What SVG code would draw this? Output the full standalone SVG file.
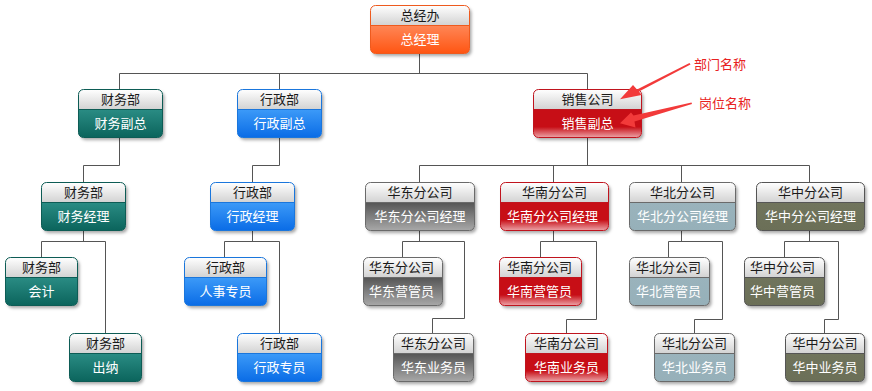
<svg xmlns="http://www.w3.org/2000/svg" width="872" height="391" viewBox="0 0 872 391">
<defs>
<linearGradient id="gHead" x1="0" y1="0" x2="0" y2="1"><stop offset="0" stop-color="#ffffff"/><stop offset="1" stop-color="#d2d2d2"/></linearGradient>
<linearGradient id="gOrange" x1="0" y1="0" x2="0" y2="1"><stop offset="0" stop-color="#ff8656"/><stop offset="1" stop-color="#ff5512"/></linearGradient>
<linearGradient id="gTeal" x1="0" y1="0" x2="0" y2="1"><stop offset="0" stop-color="#2a8c84"/><stop offset="1" stop-color="#0b645c"/></linearGradient>
<linearGradient id="gBlue" x1="0" y1="0" x2="0" y2="1"><stop offset="0" stop-color="#3c9af8"/><stop offset="1" stop-color="#0a6ce6"/></linearGradient>
<linearGradient id="gRed" x1="0" y1="0" x2="0" y2="1"><stop offset="0" stop-color="#c70e16"/><stop offset="0.62" stop-color="#c70e16"/><stop offset="1" stop-color="#eca4a8"/></linearGradient>
<linearGradient id="gGray" x1="0" y1="0" x2="0" y2="1"><stop offset="0" stop-color="#555555"/><stop offset="1" stop-color="#a8a8a8"/></linearGradient>
<linearGradient id="gSteel" x1="0" y1="0" x2="0" y2="1"><stop offset="0" stop-color="#9ab3bc"/><stop offset="1" stop-color="#96b0b9"/></linearGradient>
<linearGradient id="gOlive" x1="0" y1="0" x2="0" y2="1"><stop offset="0" stop-color="#70745c"/><stop offset="1" stop-color="#6b6f57"/></linearGradient>
<filter id="shadow" x="-10%" y="-10%" width="130%" height="140%"><feDropShadow dx="2" dy="2.5" stdDeviation="1.6" flood-color="#000" flood-opacity="0.35"/></filter>
</defs>
<style>
.hd{fill:url(#gHead)}
.bg{fill:#fff;filter:url(#shadow)}
.ol{fill:none;stroke-width:1}
.dv{stroke-width:1}
.ht{font-family:"Noto Sans CJK SC","Noto Sans CJK TC",sans-serif;font-size:13px;fill:#1a1a1a;text-anchor:middle}
.bt{font-family:"Noto Sans CJK SC","Noto Sans CJK TC",sans-serif;font-size:13px;fill:#ffffff;text-anchor:middle}
.orange .bd{fill:url(#gOrange)} .orange .ol,.orange .dv{stroke:#ee5a1e}
.teal .bd{fill:url(#gTeal)} .teal .ol,.teal .dv{stroke:#0d5c55}
.blue .bd{fill:url(#gBlue)} .blue .ol,.blue .dv{stroke:#1a76dc}
.red .bd{fill:url(#gRed)} .red .ol,.red .dv{stroke:#c0141e}
.gray .bd{fill:url(#gGray)} .gray .ol,.gray .dv{stroke:#6a6a6a}
.steel .bd{fill:url(#gSteel)} .steel .ol,.steel .dv{stroke:#6a6a6a}
.olive .bd{fill:url(#gOlive)} .olive .ol,.olive .dv{stroke:#555555}
.conn path{fill:none;stroke:#555555;stroke-width:1}
.arrow{fill:#f23a3a}
.note{font-family:"Noto Sans CJK SC","Noto Sans CJK TC",sans-serif;font-size:13px;fill:#e82222}
</style>

<g id="connectors" class="conn">
<path d="M419.5,54 V73.5 M119.5,89 V73.5 H587.5 V89 M279.5,73.5 V89"/>
<path d="M119.5,137 V165.5 H83.5 V182"/>
<path d="M279.5,137 V165.5 H252.5 V182"/>
<path d="M587.5,137 V165.5 M419.5,182 V165.5 H809.5 V182 M553.5,165.5 V182 M681.5,165.5 V182"/>
<path d="M83.5,230 V241.5 M41.5,257 V241.5 H105.5 V333"/>
<path d="M252.5,230 V241.5 M224.5,257 V241.5 H279.5 V333"/>
<path d="M419.5,230 V241.5 M402.5,257 V241.5 H464.5 V318.5 H432.5 V333"/>
<path d="M553.5,230 V241.5 M540.5,257 V241.5 H596.5 V319.5 H566.5 V333"/>
<path d="M681.5,230 V241.5 M668.5,257 V241.5 H722.5 V319.5 H694.5 V333"/>
<path d="M809.5,230 V241.5 M784.5,257 V241.5 H838.5 V319.5 H824.5 V333"/>
</g>

<g id="n1" class="orange" transform="translate(370.5,5.5)">
<rect class="bg" width="99" height="48" rx="5"/>
<path class="hd" d="M0,20 V5 A5,5 0 0 1 5,0 H94 A5,5 0 0 1 99,5 V20 Z"/>
<path class="bd" d="M0,20 H99 V43 A5,5 0 0 1 94,48 H5 A5,5 0 0 1 0,43 Z"/>
<line class="dv" x1="0" y1="20" x2="99" y2="20"/>
<rect class="ol" width="99" height="48" rx="5"/>
<text class="ht" x="49.5" y="14.5">总经办</text>
<text class="bt" x="49.5" y="38.5">总经理</text>
</g>

<g id="n2" class="teal" transform="translate(78.5,89.5)">
<rect class="bg" width="84" height="48" rx="5"/>
<path class="hd" d="M0,20 V5 A5,5 0 0 1 5,0 H79 A5,5 0 0 1 84,5 V20 Z"/>
<path class="bd" d="M0,20 H84 V43 A5,5 0 0 1 79,48 H5 A5,5 0 0 1 0,43 Z"/>
<line class="dv" x1="0" y1="20" x2="84" y2="20"/>
<rect class="ol" width="84" height="48" rx="5"/>
<text class="ht" x="42" y="14.5">财务部</text>
<text class="bt" x="42" y="38.5">财务副总</text>
</g>

<g id="n3" class="blue" transform="translate(237.5,89.5)">
<rect class="bg" width="84" height="48" rx="5"/>
<path class="hd" d="M0,20 V5 A5,5 0 0 1 5,0 H79 A5,5 0 0 1 84,5 V20 Z"/>
<path class="bd" d="M0,20 H84 V43 A5,5 0 0 1 79,48 H5 A5,5 0 0 1 0,43 Z"/>
<line class="dv" x1="0" y1="20" x2="84" y2="20"/>
<rect class="ol" width="84" height="48" rx="5"/>
<text class="ht" x="42" y="14.5">行政部</text>
<text class="bt" x="42" y="38.5">行政副总</text>
</g>

<g id="n4" class="red" transform="translate(533.5,89.5)">
<rect class="bg" width="108" height="48" rx="5"/>
<path class="hd" d="M0,20 V5 A5,5 0 0 1 5,0 H103 A5,5 0 0 1 108,5 V20 Z"/>
<path class="bd" d="M0,20 H108 V43 A5,5 0 0 1 103,48 H5 A5,5 0 0 1 0,43 Z"/>
<line class="dv" x1="0" y1="20" x2="108" y2="20"/>
<rect class="ol" width="108" height="48" rx="5"/>
<text class="ht" x="54" y="14.5">销售公司</text>
<text class="bt" x="54" y="38.5">销售副总</text>
</g>

<g id="n5" class="teal" transform="translate(41.5,182.5)">
<rect class="bg" width="84" height="48" rx="5"/>
<path class="hd" d="M0,20 V5 A5,5 0 0 1 5,0 H79 A5,5 0 0 1 84,5 V20 Z"/>
<path class="bd" d="M0,20 H84 V43 A5,5 0 0 1 79,48 H5 A5,5 0 0 1 0,43 Z"/>
<line class="dv" x1="0" y1="20" x2="84" y2="20"/>
<rect class="ol" width="84" height="48" rx="5"/>
<text class="ht" x="42" y="14.5">财务部</text>
<text class="bt" x="42" y="38.5">财务经理</text>
</g>

<g id="n6" class="blue" transform="translate(210.5,182.5)">
<rect class="bg" width="84" height="48" rx="5"/>
<path class="hd" d="M0,20 V5 A5,5 0 0 1 5,0 H79 A5,5 0 0 1 84,5 V20 Z"/>
<path class="bd" d="M0,20 H84 V43 A5,5 0 0 1 79,48 H5 A5,5 0 0 1 0,43 Z"/>
<line class="dv" x1="0" y1="20" x2="84" y2="20"/>
<rect class="ol" width="84" height="48" rx="5"/>
<text class="ht" x="42" y="14.5">行政部</text>
<text class="bt" x="42" y="38.5">行政经理</text>
</g>

<g id="n7" class="gray" transform="translate(365.5,182.5)">
<rect class="bg" width="109" height="48" rx="5"/>
<path class="hd" d="M0,20 V5 A5,5 0 0 1 5,0 H104 A5,5 0 0 1 109,5 V20 Z"/>
<path class="bd" d="M0,20 H109 V43 A5,5 0 0 1 104,48 H5 A5,5 0 0 1 0,43 Z"/>
<line class="dv" x1="0" y1="20" x2="109" y2="20"/>
<rect class="ol" width="109" height="48" rx="5"/>
<text class="ht" x="54.5" y="14.5">华东分公司</text>
<text class="bt" x="54.5" y="38.5">华东分公司经理</text>
</g>

<g id="n8" class="red" transform="translate(500.5,182.5)">
<rect class="bg" width="108" height="48" rx="5"/>
<path class="hd" d="M0,20 V5 A5,5 0 0 1 5,0 H103 A5,5 0 0 1 108,5 V20 Z"/>
<path class="bd" d="M0,20 H108 V43 A5,5 0 0 1 103,48 H5 A5,5 0 0 1 0,43 Z"/>
<line class="dv" x1="0" y1="20" x2="108" y2="20"/>
<rect class="ol" width="108" height="48" rx="5"/>
<text class="ht" x="54" y="14.5">华南分公司</text>
<text class="bt" x="52" y="38.5">华南分公司经理</text>
</g>

<g id="n9" class="steel" transform="translate(629.5,182.5)">
<rect class="bg" width="106" height="48" rx="5"/>
<path class="hd" d="M0,20 V5 A5,5 0 0 1 5,0 H101 A5,5 0 0 1 106,5 V20 Z"/>
<path class="bd" d="M0,20 H106 V43 A5,5 0 0 1 101,48 H5 A5,5 0 0 1 0,43 Z"/>
<line class="dv" x1="0" y1="20" x2="106" y2="20"/>
<rect class="ol" width="106" height="48" rx="5"/>
<text class="ht" x="53" y="14.5">华北分公司</text>
<text class="bt" x="53" y="38.5">华北分公司经理</text>
</g>

<g id="n10" class="olive" transform="translate(756.5,182.5)">
<rect class="bg" width="108" height="48" rx="5"/>
<path class="hd" d="M0,20 V5 A5,5 0 0 1 5,0 H103 A5,5 0 0 1 108,5 V20 Z"/>
<path class="bd" d="M0,20 H108 V43 A5,5 0 0 1 103,48 H5 A5,5 0 0 1 0,43 Z"/>
<line class="dv" x1="0" y1="20" x2="108" y2="20"/>
<rect class="ol" width="108" height="48" rx="5"/>
<text class="ht" x="54" y="14.5">华中分公司</text>
<text class="bt" x="54" y="38.5">华中分公司经理</text>
</g>

<g id="n11" class="teal" transform="translate(5.5,257.5)">
<rect class="bg" width="72" height="48" rx="5"/>
<path class="hd" d="M0,20 V5 A5,5 0 0 1 5,0 H67 A5,5 0 0 1 72,5 V20 Z"/>
<path class="bd" d="M0,20 H72 V43 A5,5 0 0 1 67,48 H5 A5,5 0 0 1 0,43 Z"/>
<line class="dv" x1="0" y1="20" x2="72" y2="20"/>
<rect class="ol" width="72" height="48" rx="5"/>
<text class="ht" x="36" y="14.5">财务部</text>
<text class="bt" x="36" y="38.5">会计</text>
</g>

<g id="n12" class="blue" transform="translate(184.5,257.5)">
<rect class="bg" width="82" height="48" rx="5"/>
<path class="hd" d="M0,20 V5 A5,5 0 0 1 5,0 H77 A5,5 0 0 1 82,5 V20 Z"/>
<path class="bd" d="M0,20 H82 V43 A5,5 0 0 1 77,48 H5 A5,5 0 0 1 0,43 Z"/>
<line class="dv" x1="0" y1="20" x2="82" y2="20"/>
<rect class="ol" width="82" height="48" rx="5"/>
<text class="ht" x="41" y="14.5">行政部</text>
<text class="bt" x="41" y="38.5">人事专员</text>
</g>

<g id="n13" class="gray" transform="translate(363.5,257.5)">
<rect class="bg" width="79" height="48" rx="5"/>
<path class="hd" d="M0,20 V5 A5,5 0 0 1 5,0 H74 A5,5 0 0 1 79,5 V20 Z"/>
<path class="bd" d="M0,20 H79 V43 A5,5 0 0 1 74,48 H5 A5,5 0 0 1 0,43 Z"/>
<line class="dv" x1="0" y1="20" x2="79" y2="20"/>
<rect class="ol" width="79" height="48" rx="5"/>
<text class="ht" x="38" y="14.5">华东分公司</text>
<text class="bt" x="38" y="38.5">华东营管员</text>
</g>

<g id="n14" class="red" transform="translate(499.5,257.5)">
<rect class="bg" width="82" height="48" rx="5"/>
<path class="hd" d="M0,20 V5 A5,5 0 0 1 5,0 H77 A5,5 0 0 1 82,5 V20 Z"/>
<path class="bd" d="M0,20 H82 V43 A5,5 0 0 1 77,48 H5 A5,5 0 0 1 0,43 Z"/>
<line class="dv" x1="0" y1="20" x2="82" y2="20"/>
<rect class="ol" width="82" height="48" rx="5"/>
<text class="ht" x="40" y="14.5">华南分公司</text>
<text class="bt" x="40" y="38.5">华南营管员</text>
</g>

<g id="n15" class="steel" transform="translate(629.5,257.5)">
<rect class="bg" width="80" height="48" rx="5"/>
<path class="hd" d="M0,20 V5 A5,5 0 0 1 5,0 H75 A5,5 0 0 1 80,5 V20 Z"/>
<path class="bd" d="M0,20 H80 V43 A5,5 0 0 1 75,48 H5 A5,5 0 0 1 0,43 Z"/>
<line class="dv" x1="0" y1="20" x2="80" y2="20"/>
<rect class="ol" width="80" height="48" rx="5"/>
<text class="ht" x="39" y="14.5">华北分公司</text>
<text class="bt" x="39" y="38.5">华北营管员</text>
</g>

<g id="n16" class="olive" transform="translate(744.5,257.5)">
<rect class="bg" width="80" height="48" rx="5"/>
<path class="hd" d="M0,20 V5 A5,5 0 0 1 5,0 H75 A5,5 0 0 1 80,5 V20 Z"/>
<path class="bd" d="M0,20 H80 V43 A5,5 0 0 1 75,48 H5 A5,5 0 0 1 0,43 Z"/>
<line class="dv" x1="0" y1="20" x2="80" y2="20"/>
<rect class="ol" width="80" height="48" rx="5"/>
<text class="ht" x="38" y="14.5">华中分公司</text>
<text class="bt" x="38" y="38.5">华中营管员</text>
</g>

<g id="n17" class="teal" transform="translate(69.5,333.5)">
<rect class="bg" width="72" height="48" rx="5"/>
<path class="hd" d="M0,20 V5 A5,5 0 0 1 5,0 H67 A5,5 0 0 1 72,5 V20 Z"/>
<path class="bd" d="M0,20 H72 V43 A5,5 0 0 1 67,48 H5 A5,5 0 0 1 0,43 Z"/>
<line class="dv" x1="0" y1="20" x2="72" y2="20"/>
<rect class="ol" width="72" height="48" rx="5"/>
<text class="ht" x="36" y="14.5">财务部</text>
<text class="bt" x="36" y="38.5">出纳</text>
</g>

<g id="n18" class="blue" transform="translate(237.5,333.5)">
<rect class="bg" width="84" height="48" rx="5"/>
<path class="hd" d="M0,20 V5 A5,5 0 0 1 5,0 H79 A5,5 0 0 1 84,5 V20 Z"/>
<path class="bd" d="M0,20 H84 V43 A5,5 0 0 1 79,48 H5 A5,5 0 0 1 0,43 Z"/>
<line class="dv" x1="0" y1="20" x2="84" y2="20"/>
<rect class="ol" width="84" height="48" rx="5"/>
<text class="ht" x="42" y="14.5">行政部</text>
<text class="bt" x="42" y="38.5">行政专员</text>
</g>

<g id="n19" class="gray" transform="translate(393.5,333.5)">
<rect class="bg" width="80" height="48" rx="5"/>
<path class="hd" d="M0,20 V5 A5,5 0 0 1 5,0 H75 A5,5 0 0 1 80,5 V20 Z"/>
<path class="bd" d="M0,20 H80 V43 A5,5 0 0 1 75,48 H5 A5,5 0 0 1 0,43 Z"/>
<line class="dv" x1="0" y1="20" x2="80" y2="20"/>
<rect class="ol" width="80" height="48" rx="5"/>
<text class="ht" x="40" y="14.5">华东分公司</text>
<text class="bt" x="40" y="38.5">华东业务员</text>
</g>

<g id="n20" class="red" transform="translate(525.5,333.5)">
<rect class="bg" width="82" height="48" rx="5"/>
<path class="hd" d="M0,20 V5 A5,5 0 0 1 5,0 H77 A5,5 0 0 1 82,5 V20 Z"/>
<path class="bd" d="M0,20 H82 V43 A5,5 0 0 1 77,48 H5 A5,5 0 0 1 0,43 Z"/>
<line class="dv" x1="0" y1="20" x2="82" y2="20"/>
<rect class="ol" width="82" height="48" rx="5"/>
<text class="ht" x="41" y="14.5">华南分公司</text>
<text class="bt" x="41" y="38.5">华南业务员</text>
</g>

<g id="n21" class="steel" transform="translate(654.5,333.5)">
<rect class="bg" width="80" height="48" rx="5"/>
<path class="hd" d="M0,20 V5 A5,5 0 0 1 5,0 H75 A5,5 0 0 1 80,5 V20 Z"/>
<path class="bd" d="M0,20 H80 V43 A5,5 0 0 1 75,48 H5 A5,5 0 0 1 0,43 Z"/>
<line class="dv" x1="0" y1="20" x2="80" y2="20"/>
<rect class="ol" width="80" height="48" rx="5"/>
<text class="ht" x="40" y="14.5">华北分公司</text>
<text class="bt" x="40" y="38.5">华北业务员</text>
</g>

<g id="n22" class="olive" transform="translate(785.5,333.5)">
<rect class="bg" width="79" height="48" rx="5"/>
<path class="hd" d="M0,20 V5 A5,5 0 0 1 5,0 H74 A5,5 0 0 1 79,5 V20 Z"/>
<path class="bd" d="M0,20 H79 V43 A5,5 0 0 1 74,48 H5 A5,5 0 0 1 0,43 Z"/>
<line class="dv" x1="0" y1="20" x2="79" y2="20"/>
<rect class="ol" width="79" height="48" rx="5"/>
<text class="ht" x="39.5" y="14.5">华中分公司</text>
<text class="bt" x="39.5" y="38.5">华中业务员</text>
</g>

<g id="annotations">
<polygon class="arrow" points="689.5,63 637,89.5 633,85 620,99.3 641.5,95 639,91.5 690.5,64.5"/>
<polygon class="arrow" points="691.5,102.5 633.5,115.5 631,112.5 620,123.3 635.5,127.5 634.5,121.5 692,104"/>
<text class="note" x="694" y="68.5">部门名称</text>
<text class="note" x="699" y="108">岗位名称</text>
</g>
</svg>
